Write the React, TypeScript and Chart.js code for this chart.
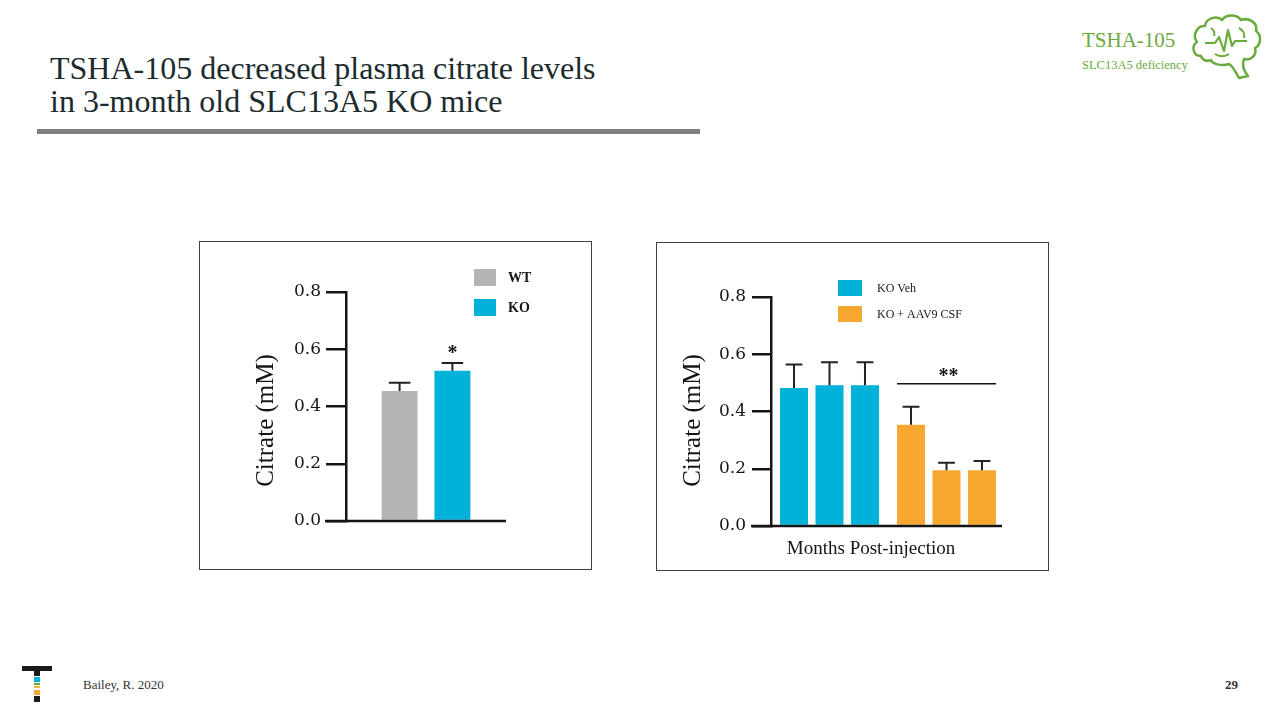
import React, { useEffect, useRef } from 'react';
import { Chart, registerables } from 'chart.js';

Chart.register(...registerables);

// ---------- data ----------
const wtKoGroups = ['WT', 'KO'];
const wtKoMeans = [0.454, 0.525];
const wtKoErrors = [0.029, 0.027];
const wtKoColors = ['#B2B4B6', '#00B1DA'];

const treatmentGroups = ['KO Veh', 'KO + AAV9 CSF'];
const timepoints = ['Time point 1', 'Time point 2', 'Time point 3'];
const vehMeans = [0.482, 0.492, 0.492];
const vehErrors = [0.082, 0.08, 0.08];
const aavMeans = [0.354, 0.195, 0.195];
const aavErrors = [0.063, 0.026, 0.032];
const treatmentColors = ['#00B1DA', '#F8A830'];

const yMin = 0;
const yMax = 0.8;
const yStep = 0.2;
const yTitle = 'Citrate (mM)';
const xTitleRight = 'Months Post-injection';
const leftStar = '*';
const rightStars = '**';
const rightSigLevel = 0.497;

const SERIF = '"Liberation Serif", "Times New Roman", serif';
const TICK_SERIF = '"DejaVu Serif", serif';
const INK = '#151515';

// ---------- plugin ----------
const annotate = {
  id: 'annotate',
  afterDatasetsDraw(chart: any, _args: any, o: any) {
    const { ctx, chartArea, scales } = chart;
    const y = scales.y;
    ctx.save();
    // baseline
    const y0 = y.getPixelForValue(0);
    ctx.strokeStyle = INK;
    ctx.lineWidth = 2.5;
    ctx.beginPath();
    ctx.moveTo(chartArea.left - o.tickLen - 1, y0);
    ctx.lineTo(chartArea.right + o.baseExtend, y0);
    ctx.stroke();

    // error bars (upper half)
    chart.data.datasets.forEach((ds: any, i: number) => {
      const meta = chart.getDatasetMeta(i);
      meta.data.forEach((bar: any, j: number) => {
        const v = ds.data[j];
        const e = ds.errors[j];
        const yt = y.getPixelForValue(v + e);
        const hw = bar.width * 0.3;
        ctx.lineWidth = 2;
        ctx.strokeStyle = '#222';
        ctx.beginPath();
        ctx.moveTo(bar.x, bar.y);
        ctx.lineTo(bar.x, yt);
        ctx.moveTo(bar.x - hw, yt);
        ctx.lineTo(bar.x + hw, yt);
        ctx.stroke();
      });
    });

    // stars over a single bar
    (o.stars || []).forEach((s: any) => {
      const ds = chart.data.datasets[s.dataset];
      const bar = chart.getDatasetMeta(s.dataset).data[s.index];
      const yt = y.getPixelForValue(ds.data[s.index] + ds.errors[s.index]);
      ctx.fillStyle = INK;
      ctx.font = `bold 20px ${SERIF}`;
      ctx.textAlign = 'center';
      ctx.textBaseline = 'alphabetic';
      ctx.fillText(s.text, bar.x, yt - 4);
    });

    // significance bracket across one category
    if (o.bracket) {
      const b = o.bracket;
      const n = chart.data.datasets.length;
      const first = chart.getDatasetMeta(0).data[b.index];
      const last = chart.getDatasetMeta(n - 1).data[b.index];
      const x1 = first.x - first.width / 2;
      const x2 = last.x + last.width / 2;
      const yl = y.getPixelForValue(b.value);
      ctx.strokeStyle = INK;
      ctx.lineWidth = 1.5;
      ctx.beginPath();
      ctx.moveTo(x1, yl);
      ctx.lineTo(x2, yl);
      ctx.stroke();
      ctx.fillStyle = INK;
      ctx.font = `bold 20px ${SERIF}`;
      ctx.textAlign = 'center';
      ctx.fillText(b.text, (x1 + x2) / 2 + 2, yl - 2);
    }

    // legend
    const L = o.legend;
    L.items.forEach((it: any, k: number) => {
      const bx = chartArea.left + L.dx;
      const by = chartArea.top + L.dy + k * L.gap;
      ctx.fillStyle = it.color;
      ctx.fillRect(bx, by, L.boxW, L.boxH);
      ctx.fillStyle = INK;
      ctx.font = `${L.weight} ${L.size}px ${SERIF}`;
      ctx.textAlign = 'left';
      ctx.textBaseline = 'middle';
      ctx.fillText(it.label, bx + L.boxW + L.textGap, by + L.boxH / 2 + 1);
    });

    // y title
    ctx.save();
    ctx.translate(chartArea.left + o.yTitleDx, (chartArea.top + chartArea.bottom) / 2 + o.yTitleDy);
    ctx.rotate(-Math.PI / 2);
    ctx.fillStyle = INK;
    ctx.font = `25px ${SERIF}`;
    ctx.textAlign = 'center';
    ctx.textBaseline = 'middle';
    ctx.fillText(yTitle, 0, 0);
    ctx.restore();

    // x title
    if (o.xTitle) {
      ctx.fillStyle = INK;
      ctx.font = `19px ${SERIF}`;
      ctx.textAlign = 'center';
      ctx.textBaseline = 'alphabetic';
      ctx.fillText(o.xTitle, (chartArea.left + chartArea.right) / 2 + o.xTitleDx, chartArea.bottom + o.xTitleDy);
    }
    ctx.restore();
  },
};

function yScale(width: number, tickLen: number, pad: number) {
  return {
    min: yMin,
    max: yMax,
    ticks: {
      stepSize: yStep,
      color: INK,
      padding: pad,
      font: { family: TICK_SERIF, size: 17 },
      callback: (v: any) => Number(v).toFixed(1),
    },
    grid: {
      display: true,
      drawOnChartArea: false,
      drawTicks: true,
      tickLength: tickLen,
      color: INK,
      lineWidth: 2.5,
    },
    border: { display: true, color: INK, width: 2.5 },
    afterFit: (s: any) => {
      s.width = width;
    },
  };
}

function ChartCanvas({ config, w, h }: { config: any; w: number; h: number }) {
  const ref = useRef<HTMLCanvasElement | null>(null);
  useEffect(() => {
    if (!ref.current) return;
    const c = new Chart(ref.current, config);
    return () => c.destroy();
  }, []);
  return <canvas ref={ref} width={w} height={h} style={{ display: 'block', width: w, height: h }} />;
}

const leftConfig = {
  type: 'bar',
  data: {
    labels: [''],
    datasets: wtKoGroups.map((g, i) => ({
      label: g,
      data: [wtKoMeans[i]],
      errors: [wtKoErrors[i]],
      backgroundColor: wtKoColors[i],
      borderWidth: 0,
      categoryPercentage: 0.66,
      barPercentage: 0.68,
    })),
  },
  options: {
    animation: false,
    responsive: false,
    maintainAspectRatio: false,
    layout: { padding: { left: 0, top: 50, right: 85, bottom: 48 } },
    scales: {
      x: { display: false },
      y: yScale(146, 20, 5),
    },
    plugins: {
      legend: { display: false },
      tooltip: { enabled: false },
      annotate: {
        tickLen: 20,
        baseExtend: 0,
        stars: [{ dataset: 1, index: 0, text: leftStar }],
        legend: {
          items: wtKoGroups.map((g, i) => ({ label: g, color: wtKoColors[i] })),
          dx: 128,
          dy: -23,
          gap: 30,
          boxW: 22,
          boxH: 17,
          textGap: 12,
          size: 14,
          weight: '600',
        },
        yTitleDx: -80,
        yTitleDy: 14,
      },
    },
  },
  plugins: [annotate],
};

const rightConfig = {
  type: 'bar',
  data: {
    labels: treatmentGroups,
    datasets: timepoints.map((t, k) => ({
      label: t,
      data: [vehMeans[k], aavMeans[k]],
      errors: [vehErrors[k], aavErrors[k]],
      backgroundColor: treatmentColors,
      borderWidth: 0,
      categoryPercentage: 0.91,
      barPercentage: 0.79,
    })),
  },
  options: {
    animation: false,
    responsive: false,
    maintainAspectRatio: false,
    layout: { padding: { left: 0, top: 54, right: 43, bottom: 44 } },
    scales: {
      x: { display: false },
      y: yScale(114, 19, 6),
    },
    plugins: {
      legend: { display: false },
      tooltip: { enabled: false },
      annotate: {
        tickLen: 19,
        baseExtend: -3,
        bracket: { index: 1, value: rightSigLevel, text: rightStars },
        legend: {
          items: treatmentGroups.map((g, i) => ({ label: g, color: treatmentColors[i] })),
          dx: 67,
          dy: -17,
          gap: 26,
          boxW: 24,
          boxH: 16,
          textGap: 15,
          size: 12,
          weight: 'normal',
        },
        yTitleDx: -78,
        yTitleDy: 9,
        xTitle: xTitleRight,
        xTitleDx: -17,
        xTitleDy: 28,
      },
    },
  },
  plugins: [annotate],
};

const GREEN = '#6BAA3C';

function Brain() {
  return (
    <svg width={76} height={74} viewBox="0 0 76 74" style={{ position: 'absolute', left: 1189, top: 10 }}>
      <path
        d="M12 46 C4 46 2 36 8 32 C3 26 8 15 16 16 C17 8 28 5 33 10 C37 4 48 4 52 10 C60 7 69 13 67 21 C73 25 72 35 66 38 C68 45 62 51 55 49 C53 54 54 60 59 66 L50 68 C46 61 44 56 40 54 C34 56 24 55 22 50 C18 52 13 50 12 46 Z"
        fill="none"
        stroke={GREEN}
        strokeWidth={2.5}
        strokeLinejoin="round"
      />
      <path
        d="M16 33 L26 33 L30 27 L35 41 L39 20 L43 36 L46 31 L58 31"
        fill="none"
        stroke={GREEN}
        strokeWidth={2.2}
        strokeLinejoin="round"
      />
      <path d="M50 18 C54 20 56 24 55 28" fill="none" stroke={GREEN} strokeWidth={2} />
      <path d="M26 44 C30 47 36 47 40 44" fill="none" stroke={GREEN} strokeWidth={2} />
      <path d="M22 18 C25 20 26 23 25 26" fill="none" stroke={GREEN} strokeWidth={2} />
    </svg>
  );
}

function Logo() {
  const seg = (top: number, h: number, color: string) => (
    <div style={{ position: 'absolute', left: 34, top, width: 6, height: h, background: color }} />
  );
  return (
    <>
      <div style={{ position: 'absolute', left: 22, top: 666, width: 30, height: 5, background: '#1a1a1a' }} />
      {seg(671, 5, '#1a1a1a')}
      {seg(677, 5, '#00B1DA')}
      {seg(683, 2, '#6BAA3C')}
      {seg(686, 2, '#E8C040')}
      {seg(690, 5, '#F8A830')}
      {seg(696, 6, '#1a1a1a')}
    </>
  );
}

export default function App() {
  return (
    <div
      style={{
        position: 'fixed',
        left: 0,
        top: 0,
        width: 1280,
        height: 720,
        background: '#ffffff',
        overflow: 'hidden',
        fontFamily: SERIF,
      }}
    >
      <div
        style={{
          position: 'absolute',
          left: 50,
          top: 52,
          fontSize: 32,
          lineHeight: '33px',
          color: '#1C2B2E',
          whiteSpace: 'nowrap',
        }}
      >
        TSHA-105 decreased plasma citrate levels
        <br />
        in 3-month old SLC13A5 KO mice
      </div>
      <div style={{ position: 'absolute', left: 37, top: 129, width: 663, height: 5, background: '#808080' }} />

      <div style={{ position: 'absolute', left: 1082, top: 30, fontSize: 21, lineHeight: '21px', color: GREEN, whiteSpace: 'nowrap' }}>
        TSHA-105
      </div>
      <div style={{ position: 'absolute', left: 1082, top: 59, fontSize: 12.5, lineHeight: '12.5px', color: GREEN, whiteSpace: 'nowrap' }}>
        SLC13A5 deficiency
      </div>
      <Brain />

      <div
        style={{
          position: 'absolute',
          left: 199,
          top: 241,
          width: 393,
          height: 329,
          border: '1px solid #404040',
          boxSizing: 'border-box',
        }}
      >
        <ChartCanvas config={leftConfig} w={391} h={327} />
      </div>

      <div
        style={{
          position: 'absolute',
          left: 656,
          top: 242,
          width: 393,
          height: 329,
          border: '1px solid #404040',
          boxSizing: 'border-box',
        }}
      >
        <ChartCanvas config={rightConfig} w={391} h={327} />
      </div>

      <Logo />
      <div style={{ position: 'absolute', left: 83, top: 678, fontSize: 13, lineHeight: '13px', color: '#333', whiteSpace: 'nowrap' }}>
        Bailey, R. 2020
      </div>
      <div
        style={{
          position: 'absolute',
          right: 42,
          top: 678,
          fontSize: 13,
          lineHeight: '13px',
          fontWeight: 'bold',
          color: '#333',
        }}
      >
        29
      </div>
    </div>
  );
}
